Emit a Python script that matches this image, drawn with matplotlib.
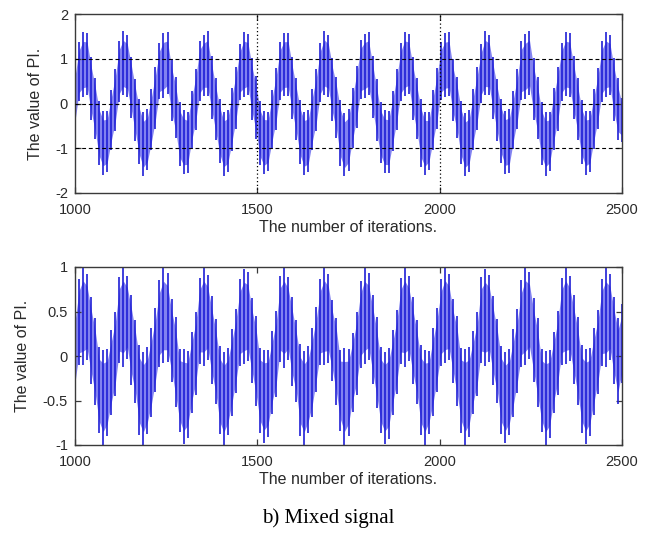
import numpy as np
import matplotlib
matplotlib.use("Agg")
import matplotlib.pyplot as plt

# ---------------- data ----------------
x_start, x_end = 1000, 2500
x_ticks = [1000, 1500, 2000, 2500]

# Top panel: spike tops and bottoms, one spike every ~11 iterations
top_hi = [
    0.80, 1.37, 1.59, 1.57, 1.03, 0.58, 0.06, -0.17, -0.16, 0.31,
    0.78, 1.40, 1.61, 1.53, 1.05, 0.55, 0.09, -0.20, -0.12, 0.33,
    0.82, 1.35, 1.57, 1.59, 1.00, 0.60, 0.04, -0.14, -0.19, 0.29,
    0.76, 1.39, 1.54, 1.61, 1.06, 0.57, 0.11, -0.19, -0.14, 0.35,
    0.81, 1.34, 1.60, 1.55, 1.02, 0.61, 0.05, -0.16, -0.18, 0.30,
    0.79, 1.38, 1.58, 1.58, 1.04, 0.56, 0.08, -0.18, -0.15, 0.32,
    0.77, 1.36, 1.62, 1.52, 1.01, 0.59, 0.07, -0.21, -0.13, 0.34,
    0.83, 1.41, 1.56, 1.60, 1.07, 0.54, 0.03, -0.15, -0.17, 0.28,
    0.78, 1.35, 1.60, 1.56, 1.03, 0.58, 0.10, -0.18, -0.20, 0.31,
    0.80, 1.38, 1.57, 1.59, 0.99, 0.60, 0.06, -0.22, -0.15, 0.33,
    0.82, 1.33, 1.61, 1.54, 1.04, 0.55, 0.09, -0.16, -0.12, 0.29,
    0.76, 1.40, 1.55, 1.61, 1.02, 0.59, 0.04, -0.19, -0.18, 0.35,
    0.81, 1.36, 1.59, 1.57, 1.06, 0.57, 0.07, -0.17, -0.16, 0.32,
    0.79, 1.39, 1.60, 1.53, 1.01, 0.56, 0.12,
]
top_lo = [
    -0.58, 0.06, 0.15, 0.18, -0.36, -0.80, -1.37, -1.59, -1.52, -1.03,
    -0.61, 0.03, 0.18, 0.14, -0.33, -0.83, -1.35, -1.62, -1.49, -1.05,
    -0.56, 0.09, 0.12, 0.21, -0.38, -0.78, -1.40, -1.57, -1.55, -1.01,
    -0.60, 0.05, 0.17, 0.16, -0.34, -0.82, -1.33, -1.61, -1.53, -1.06,
    -0.57, 0.08, 0.14, 0.20, -0.37, -0.79, -1.38, -1.58, -1.50, -1.02,
    -0.59, 0.07, 0.16, 0.17, -0.35, -0.81, -1.36, -1.60, -1.54, -1.04,
    -0.62, 0.04, 0.19, 0.15, -0.39, -0.77, -1.39, -1.63, -1.51, -1.00,
    -0.55, 0.10, 0.13, 0.19, -0.32, -0.84, -1.34, -1.56, -1.56, -1.07,
    -0.59, 0.05, 0.16, 0.22, -0.36, -0.80, -1.41, -1.60, -1.48, -1.03,
    -0.58, 0.07, 0.14, 0.16, -0.40, -0.78, -1.36, -1.62, -1.53, -1.05,
    -0.60, 0.02, 0.18, 0.18, -0.34, -0.83, -1.32, -1.58, -1.55, -1.01,
    -0.56, 0.08, 0.11, 0.20, -0.37, -0.79, -1.38, -1.61, -1.51, -1.04,
    -0.61, 0.06, 0.17, 0.15, -0.35, -0.81, -1.35, -1.59, -1.52, -1.02,
    -0.57, 0.04, 0.15, 0.19, -0.38, -0.82, -0.85,
]

# Bottom panel (mixed signal, normalised to [-1, 1])
bot_hi = [
    0.52, 0.87, 1.00, 0.92, 0.66, 0.43, 0.10, 0.07, 0.08, 0.29,
    0.50, 0.89, 1.00, 0.90, 0.68, 0.41, 0.12, 0.05, 0.10, 0.31,
    0.54, 0.85, 0.99, 0.93, 0.64, 0.44, 0.08, 0.08, 0.06, 0.27,
    0.49, 0.88, 1.00, 0.91, 0.67, 0.42, 0.11, 0.04, 0.09, 0.30,
    0.53, 0.86, 0.98, 0.94, 0.65, 0.45, 0.09, 0.07, 0.07, 0.28,
    0.51, 0.90, 1.00, 0.89, 0.66, 0.40, 0.13, 0.06, 0.11, 0.32,
    0.55, 0.87, 1.00, 0.92, 0.63, 0.43, 0.07, 0.09, 0.08, 0.26,
    0.50, 0.84, 0.99, 0.93, 0.69, 0.44, 0.10, 0.05, 0.09, 0.29,
    0.52, 0.88, 1.00, 0.90, 0.66, 0.41, 0.12, 0.07, 0.06, 0.31,
    0.54, 0.86, 1.00, 0.92, 0.64, 0.45, 0.09, 0.08, 0.10, 0.28,
    0.49, 0.89, 0.98, 0.91, 0.67, 0.42, 0.11, 0.04, 0.08, 0.30,
    0.53, 0.85, 1.00, 0.94, 0.65, 0.43, 0.08, 0.06, 0.07, 0.27,
    0.51, 0.88, 1.00, 0.90, 0.68, 0.44, 0.12, 0.08, 0.09, 0.32,
    0.52, 0.87, 0.99, 0.92, 0.66, 0.43, 0.58,
]
bot_lo = [
    -0.43, -0.10, -0.10, -0.05, -0.31, -0.55, -0.87, -1.00, -0.90, -0.66,
    -0.45, -0.08, -0.12, -0.03, -0.33, -0.53, -0.89, -1.00, -0.88, -0.68,
    -0.41, -0.12, -0.08, -0.07, -0.29, -0.57, -0.85, -0.99, -0.92, -0.64,
    -0.44, -0.09, -0.11, -0.04, -0.32, -0.54, -0.88, -1.00, -0.89, -0.67,
    -0.42, -0.11, -0.09, -0.06, -0.30, -0.56, -0.86, -0.98, -0.91, -0.65,
    -0.46, -0.07, -0.13, -0.05, -0.34, -0.52, -0.90, -1.00, -0.87, -0.69,
    -0.40, -0.10, -0.10, -0.08, -0.28, -0.55, -0.84, -1.00, -0.90, -0.63,
    -0.44, -0.13, -0.09, -0.04, -0.31, -0.58, -0.87, -0.99, -0.93, -0.66,
    -0.43, -0.09, -0.12, -0.06, -0.32, -0.54, -0.89, -1.00, -0.88, -0.67,
    -0.41, -0.11, -0.08, -0.05, -0.30, -0.56, -0.86, -1.00, -0.91, -0.65,
    -0.45, -0.08, -0.11, -0.07, -0.33, -0.53, -0.88, -0.98, -0.89, -0.68,
    -0.42, -0.12, -0.10, -0.03, -0.29, -0.57, -0.85, -1.00, -0.92, -0.64,
    -0.44, -0.10, -0.09, -0.06, -0.31, -0.55, -0.87, -0.99, -0.90, -0.66,
    -0.43, -0.11, -0.12, -0.05, -0.32, -0.54, -0.30,
]

# ---------------- drawing ----------------
DARK = "#1f1fd6"
LIGHT = "#8282f0"
AXC = "#3a3a3a"
TXT = "#2a2a2a"

plt.rcParams["font.family"] = ["Liberation Sans", "DejaVu Sans"]

fig = plt.figure(figsize=(6.5, 5.35), dpi=100)
ax1 = fig.add_axes([75 / 650, 1 - 193 / 535, 547 / 650, 179 / 535])
ax2 = fig.add_axes([75 / 650, 1 - 445 / 535, 547 / 650, 178 / 535])


def draw_signal(ax, hi, lo):
    hi = np.asarray(hi)
    lo = np.asarray(lo)
    x = np.linspace(x_start, x_end, len(hi))
    span = hi - lo
    ax.fill_between(x, lo + 0.14 * span, hi - 0.14 * span,
                    color=LIGHT, lw=0, zorder=1)
    ax.vlines(x, lo, hi, color=DARK, lw=1.2, zorder=2)


draw_signal(ax1, top_hi, top_lo)
draw_signal(ax2, bot_hi, bot_lo)

ax1.set_ylim(-2, 2)
ax1.set_yticks([-2, -1, 0, 1, 2])
ax1.set_yticklabels(["-2", "-1", "0", "1", "2"])
ax2.set_ylim(-1, 1)
ax2.set_yticks([-1, -0.5, 0, 0.5, 1])
ax2.set_yticklabels(["-1", "-0.5", "0", "0.5", "1"])

# grid on the top panel (drawn over the data)
for yv in [-1, 0, 1]:
    ax1.axhline(yv, color="black", lw=0.8, ls=(0, (3.5, 2.5)), zorder=3)
for xv in [1500, 2000]:
    ax1.axvline(xv, color="black", lw=0.9, ls=(0, (1, 2)), zorder=3)

for ax in (ax1, ax2):
    ax.set_xlim(x_start, x_end)
    ax.set_xticks(x_ticks)
    ax.set_xticklabels([str(t) for t in x_ticks])
    ax.tick_params(direction="in", length=4.5, width=0.9, colors=AXC,
                   labelcolor=TXT, labelsize=10.5, top=True, right=True)
    ax.tick_params(axis="x", pad=7)
    ax.tick_params(axis="y", pad=5)
    for s in ax.spines.values():
        s.set_color(AXC)
        s.set_linewidth(1.0)
    ax.set_xlabel("The number of iterations.", fontsize=11.5, color=TXT, labelpad=2)
    ax.set_ylabel("The value of PI.", fontsize=11.5, color=TXT, labelpad=9)

fig.text(328 / 650, 1 - 518 / 535, "b) Mixed signal", ha="center", va="center",
         fontsize=15, family=["Liberation Serif", "DejaVu Serif"], color="black")

fig.savefig("out.png", dpi=100)
